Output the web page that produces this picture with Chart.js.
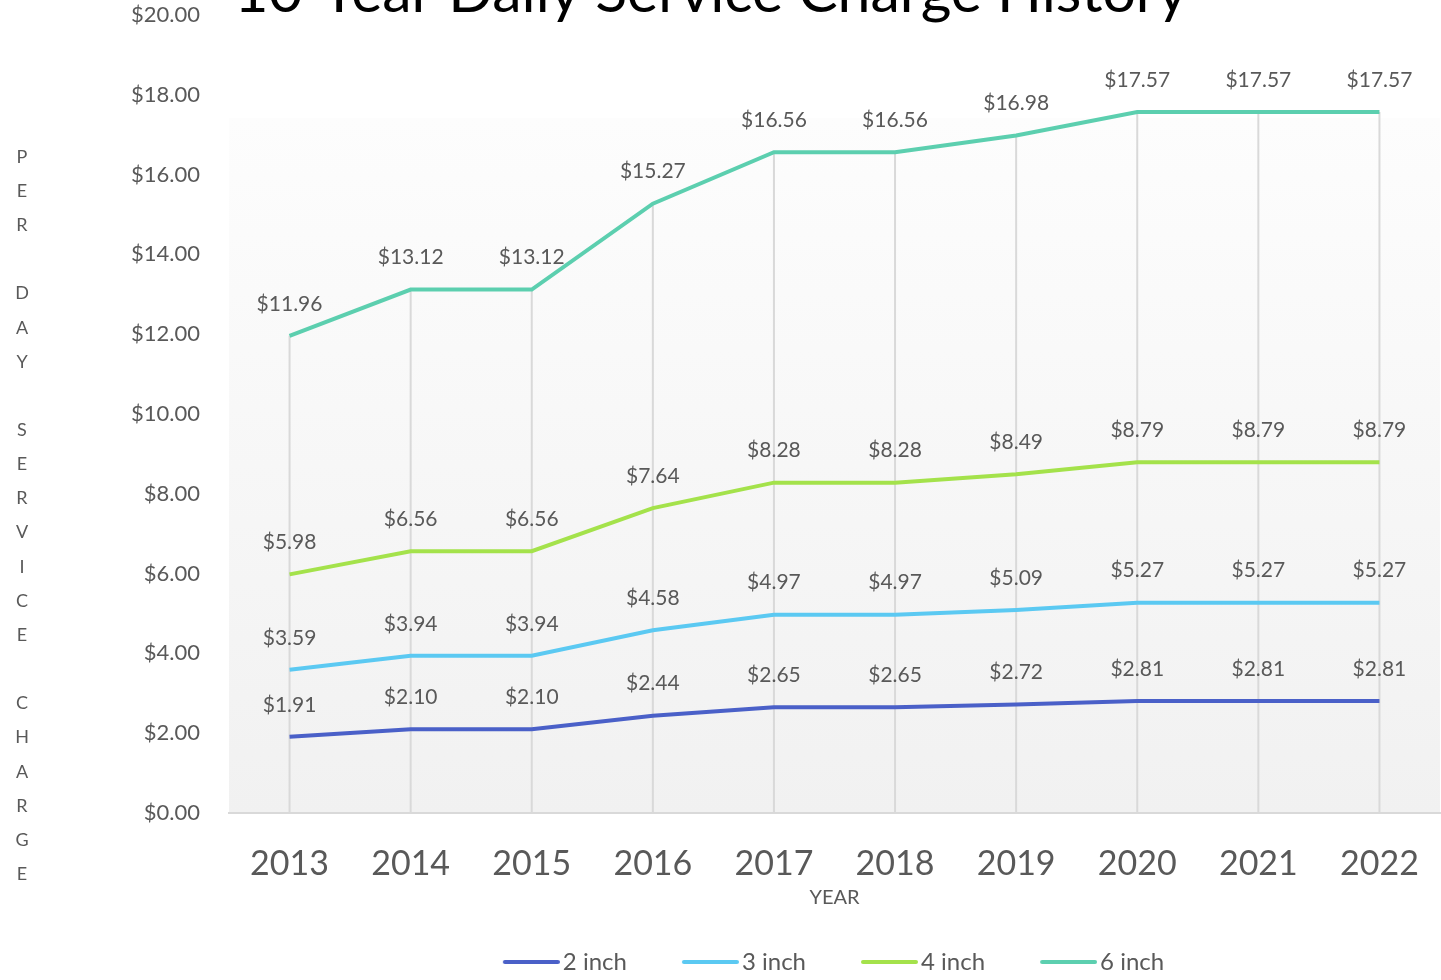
<!DOCTYPE html>
<html>
<head>
<meta charset="utf-8">
<script src="https://cdn.jsdelivr.net/npm/chart.js@4.4.0/dist/chart.umd.min.js"></script>
<style>
  html, body { margin: 0; padding: 0; background: #ffffff; }
  #wrap { width: 1441px; height: 980px; position: relative; }
</style>
</head>
<body>
<div id="wrap"><canvas id="chargeChart"></canvas></div>
<script>
// values
const years = ["2013", "2014", "2015", "2016", "2017", "2018", "2019", "2020", "2021", "2022"];
const twoInch = [1.91, 2.10, 2.10, 2.44, 2.65, 2.65, 2.72, 2.81, 2.81, 2.81];
const threeInch = [3.59, 3.94, 3.94, 4.58, 4.97, 4.97, 5.09, 5.27, 5.27, 5.27];
const fourInch = [5.98, 6.56, 6.56, 7.64, 8.28, 8.28, 8.49, 8.79, 8.79, 8.79];
const sixInch = [11.96, 13.12, 13.12, 15.27, 16.56, 16.56, 16.98, 17.57, 17.57, 17.57];
const seriesNames = ["2 inch", "3 inch", "4 inch", "6 inch"];
const seriesColors = ["#4A60C8", "#5BC9F2", "#A4E24B", "#5CCFAF"];

const chartTitle = "10-Year Daily Service Charge History";
const yTitle = "PER DAY SERVICE CHARGE";
const xTitle = "YEAR";

const FONT = "Lato, sans-serif";
const GRAY = "#595959";

// legend swatch: a 55px line that sits close to its text
function legendLine(color) {
  const c = document.createElement("canvas");
  c.width = 64;
  c.height = 4;
  const g = c.getContext("2d");
  g.strokeStyle = color;
  g.lineWidth = 4;
  g.lineCap = "round";
  g.beginPath();
  g.moveTo(9, 2);
  g.lineTo(62, 2);
  g.stroke();
  return c;
}

// plot area fill (gradient) and drop lines from the top series
const plotBackground = {
  id: "plotBackground",
  beforeDraw(chart) {
    const { ctx, chartArea } = chart;
    const top = 118;
    const g = ctx.createLinearGradient(0, top, 0, chartArea.bottom);
    g.addColorStop(0, "#fdfdfd");
    g.addColorStop(1, "#f1f1f1");
    ctx.save();
    ctx.fillStyle = g;
    ctx.fillRect(chartArea.left, top, chartArea.right - chartArea.left, chartArea.bottom - top);
    ctx.restore();
  }
};

const dropLines = {
  id: "dropLines",
  beforeDatasetsDraw(chart) {
    const { ctx, chartArea } = chart;
    const meta = chart.getDatasetMeta(chart.data.datasets.length - 1);
    ctx.save();
    ctx.strokeStyle = "#d9d9d9";
    ctx.lineWidth = 2;
    meta.data.forEach(pt => {
      ctx.beginPath();
      ctx.moveTo(pt.x, pt.y);
      ctx.lineTo(pt.x, chartArea.bottom);
      ctx.stroke();
    });
    ctx.restore();
  }
};

const valueLabels = {
  id: "valueLabels",
  afterDatasetsDraw(chart) {
    const { ctx } = chart;
    ctx.save();
    ctx.font = "21px " + FONT;
    ctx.fillStyle = GRAY;
    ctx.textAlign = "center";
    ctx.textBaseline = "middle";
    chart.data.datasets.forEach((ds, i) => {
      chart.getDatasetMeta(i).data.forEach((pt, j) => {
        ctx.fillText("$" + ds.data[j].toFixed(2), pt.x, pt.y - 32);
      });
    });
    ctx.restore();
  }
};

// title sits partly above the canvas, y title is stacked letters
const extraText = {
  id: "extraText",
  afterDraw(chart) {
    const { ctx } = chart;
    ctx.save();
    ctx.fillStyle = "#000000";
    ctx.font = "59px " + FONT;
    ctx.textAlign = "center";
    ctx.textBaseline = "alphabetic";
    ctx.fillText(chartTitle, 711, 12);

    ctx.fillStyle = GRAY;
    ctx.font = "18px " + FONT;
    ctx.textBaseline = "middle";
    yTitle.split("").forEach((ch, i) => {
      ctx.fillText(ch, 22, 157 + i * 34.15);
    });
    ctx.restore();
  }
};

const ctx = document.getElementById("chargeChart").getContext("2d");

new Chart(ctx, {
  type: "line",
  data: {
    labels: years,
    datasets: [twoInch, threeInch, fourInch, sixInch].map((vals, i) => ({
      label: seriesNames[i],
      data: vals,
      borderColor: seriesColors[i],
      backgroundColor: seriesColors[i],
      borderWidth: 4,
      pointRadius: 0,
      pointHoverRadius: 0,
      pointStyle: legendLine(seriesColors[i]),
      fill: false,
      tension: 0
    }))
  },
  options: {
    responsive: true,
    maintainAspectRatio: false,
    animation: false,
    layout: {
      padding: { top: 15, right: 1, bottom: -4, left: 0 }
    },
    scales: {
      x: {
        offset: true,
        grid: { display: false, drawTicks: false },
        border: { display: true, color: "#d9d9d9", width: 2 },
        ticks: {
          padding: 31,
          maxRotation: 0,
          font: { family: FONT, size: 34 },
          color: GRAY
        },
        title: {
          display: true,
          text: xTitle,
          font: { family: FONT, size: 20 },
          color: GRAY,
          padding: { top: 0, bottom: -17 }
        },
        afterFit: scale => {
          scale.height = 80;
          scale.paddingLeft = 0;
          scale.paddingRight = 0;
        }
      },
      y: {
        min: 0,
        max: 20,
        grid: { display: false, drawTicks: false },
        border: { display: false },
        ticks: {
          stepSize: 2,
          padding: 29,
          callback: value => "$" + value.toFixed(2),
          font: { family: FONT, size: 22 },
          color: GRAY
        },
        afterFit: scale => {
          scale.width = 229;
          scale.paddingTop = 0;
          scale.paddingBottom = 0;
        }
      }
    },
    plugins: {
      legend: {
        position: "bottom",
        fullSize: false,
        labels: {
          usePointStyle: true,
          pointStyleWidth: 46,
          padding: 57,
          font: { family: FONT, size: 24 },
          color: GRAY
        }
      },
      tooltip: { enabled: false },
      title: { display: false }
    }
  },
  plugins: [plotBackground, dropLines, valueLabels, extraText]
});
</script>
</body>
</html>
